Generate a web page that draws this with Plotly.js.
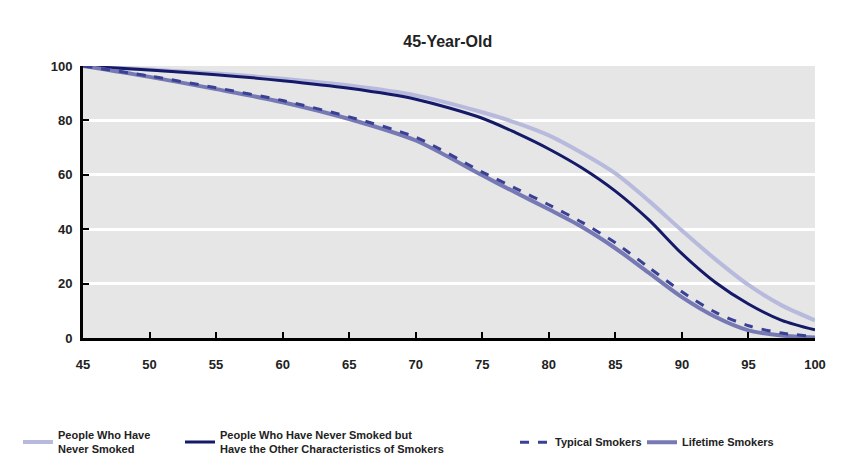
<!DOCTYPE html>
<html>
<head>
<meta charset="utf-8">
<script src="https://cdn.plot.ly/plotly-3.0.1.min.js"></script>
<style>html,body{margin:0;padding:0;background:#fff;}#chart{width:866px;height:464px;}</style>
</head>
<body>
<div id="chart"></div>
<script>
const ages = [45, 50, 55, 60, 65, 70, 75, 77.5, 80, 82.5, 85, 87.5, 90, 92.5, 95, 97.5, 100];
const neverSmoked =             [100, 98.7, 97.2, 95.3, 92.8, 89.2, 83, 79.2, 74.5, 68, 60.5, 50.5, 39.5, 29, 19.5, 12, 6.5];
const neverSmokedSmokerTraits = [100, 98.5, 96.8, 94.6, 91.8, 87.8, 80.8, 75.5, 69.5, 62.5, 54, 43.5, 31, 20.5, 12.5, 6.5, 3];
const typicalSmokers =          [100, 96.3, 92, 87.3, 81.3, 73.8, 61, 55, 49, 42.5, 35, 26, 17, 9.5, 4.5, 1.8, 0.6];
const lifetimeSmokers =         [100, 96, 91.5, 86.7, 80.5, 72.6, 59.8, 53.5, 47.3, 40.8, 33, 24, 15, 7.8, 2.8, 0.9, 0.2];
const seriesNames = [
  'People Who Have<br>Never Smoked',
  'People Who Have Never Smoked but<br>Have the Other Characteristics of Smokers',
  'Typical Smokers',
  'Lifetime Smokers'
];
const xTicks = [45, 50, 55, 60, 65, 70, 75, 80, 85, 90, 95, 100];
const yTicks = [0, 20, 40, 60, 80, 100];

const FONT = '"Liberation Sans", Arial, sans-serif';

const traces = [
  {x: ages, y: neverSmoked, name: seriesNames[0], mode: 'lines', legend: 'legend',
   line: {color: '#b7badc', width: 4, shape: 'spline', smoothing: 0.8}},
  {x: ages, y: neverSmokedSmokerTraits, name: seriesNames[1], mode: 'lines', legend: 'legend2',
   line: {color: '#151a68', width: 3, shape: 'spline', smoothing: 0.8}},
  {x: ages, y: lifetimeSmokers, name: seriesNames[3], mode: 'lines', legend: 'legend4',
   line: {color: '#7679b3', width: 4, shape: 'spline', smoothing: 0.8}},
  {x: ages, y: typicalSmokers, name: seriesNames[2], mode: 'lines', legend: 'legend3',
   line: {color: '#3a4093', width: 3, dash: 'dash', shape: 'spline', smoothing: 0.8}}
];

const fnt = (size) => ({family: FONT, size: size, color: '#222', weight: 'bold'});
const leg = (px) => ({
  orientation: 'h', xref: 'container', yref: 'container',
  x: px / 866, xanchor: 'left', y: 0.047, yanchor: 'middle',
  font: fnt(11), bgcolor: 'rgba(0,0,0,0)', itemwidth: 30
});

const layout = {
  width: 866, height: 464,
  paper_bgcolor: '#ffffff',
  plot_bgcolor: '#e6e6e6',
  margin: {l: 83, r: 51, t: 66, b: 126},
  font: fnt(13),
  title: {text: '45-Year-Old', x: 0.517, xanchor: 'center', y: 0.91, yanchor: 'middle',
          font: fnt(16)},
  xaxis: {
    range: [45, 100], tickvals: xTicks,
    showgrid: false, zeroline: false,
    showline: true, linecolor: '#000', linewidth: 3,
    ticks: 'inside', ticklen: 6, tickwidth: 2, tickcolor: '#000',
    ticklabelstandoff: 12,
    tickfont: fnt(13)
  },
  yaxis: {
    range: [0, 100], tickvals: yTicks,
    showgrid: true, gridcolor: '#ffffff', gridwidth: 3, zeroline: false,
    showline: true, linecolor: '#000', linewidth: 3,
    ticks: 'inside', ticklen: 6, tickwidth: 2, tickcolor: '#000',
    ticklabelstandoff: 5,
    tickfont: fnt(13)
  },
  showlegend: true,
  legend: leg(18),
  legend2: leg(180),
  legend3: leg(515),
  legend4: leg(642)
};

Plotly.newPlot('chart', traces, layout, {displayModeBar: false, staticPlot: true});
</script>
</body>
</html>
